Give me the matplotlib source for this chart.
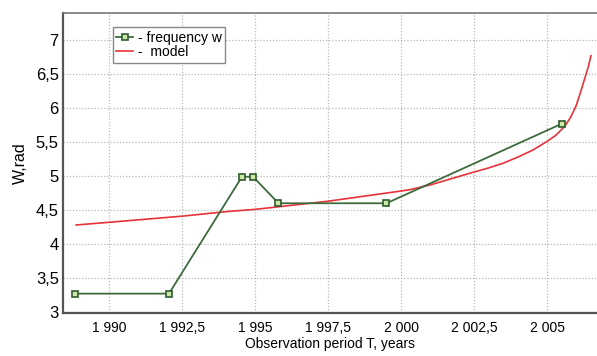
import matplotlib
matplotlib.use("Agg")
import matplotlib.pyplot as plt
from matplotlib.ticker import FuncFormatter

plt.rcParams['font.family'] = ['Liberation Sans', 'DejaVu Sans']

# Observed frequency w
obs_years = [1988.84, 1992.05, 1994.55, 1994.93, 1995.8, 1999.5, 2005.5]
obs_w = [3.27, 3.27, 4.99, 4.99, 4.60, 4.60, 5.77]

# Model curve samples
model_years = [1988.87, 1990.0, 1992.5, 1994.1, 1995.0, 1997.5, 2000.0, 2000.3,
               2001.0, 2002.5, 2003.0, 2003.5, 2004.0, 2004.5, 2005.0, 2005.3,
               2005.6, 2005.8, 2006.0, 2006.15, 2006.3, 2006.42, 2006.5]
model_w = [4.28, 4.32, 4.41, 4.48, 4.51, 4.63, 4.78, 4.80,
           4.87, 5.06, 5.12, 5.19, 5.28, 5.38, 5.51, 5.60,
           5.73, 5.86, 6.04, 6.24, 6.45, 6.62, 6.77]

x_ticks = [1990, 1992.5, 1995, 1997.5, 2000, 2002.5, 2005]
y_ticks = [3, 3.5, 4, 4.5, 5, 5.5, 6, 6.5, 7]


def comma_fmt(v, _pos=None):
    if abs(v - round(v)) < 1e-9:
        s = f"{int(round(v))}"
    else:
        s = f"{v:.1f}".replace('.', ',')
    ip, _, frac = s.partition(',')
    if len(ip) > 3:
        ip = ip[:-3] + ' ' + ip[-3:]
    return ip + (',' + frac if frac else '')


fig = plt.figure(figsize=(5.97, 3.56), dpi=100)
ax = fig.add_axes([0.1055, 0.1208, 0.8945, 0.8427])

ax.plot(obs_years, obs_w, color='#3d6b3d', lw=1.3, marker='s', ms=5,
        mfc='#cde8a6', mec='#2f5a2f', mew=1.2, label='- frequency w', zorder=3)
ax.plot(model_years, model_w, color='#e8323a', lw=1.2, label='-  model', zorder=2)

ax.set_xlim(1988.42, 2006.71)
ax.set_ylim(2.985, 7.4)
ax.set_xticks(x_ticks)
ax.set_yticks(y_ticks)
ax.xaxis.set_major_formatter(FuncFormatter(comma_fmt))
ax.yaxis.set_major_formatter(FuncFormatter(comma_fmt))
ax.tick_params(axis='x', length=0, pad=6, labelsize=10)
ax.tick_params(axis='y', length=0, pad=3, labelsize=12)

ax.grid(True, color='#b8b8b8', linestyle=(0, (1, 1.5)), linewidth=0.9)
ax.set_axisbelow(True)

for side in ('left', 'bottom', 'top'):
    ax.spines[side].set_color('#555555')
    ax.spines[side].set_linewidth(1.6)
ax.spines['top'].set_color('#777777')
ax.spines['top'].set_linewidth(1.2)
ax.spines['right'].set_visible(False)

ax.set_xlabel('Observation period T, years', fontsize=10, labelpad=1)
ax.set_ylabel('W,rad', fontsize=11.5, labelpad=6)

leg = ax.legend(loc='upper left', bbox_to_anchor=(0.0936, 0.953), fontsize=10,
                handlelength=1.2, handletextpad=0.35, borderpad=0.25,
                labelspacing=0.05, borderaxespad=0, fancybox=False, framealpha=1)
leg.get_frame().set_edgecolor('#888888')
leg.get_frame().set_linewidth(1.0)

fig.savefig('out.png', dpi=100)
